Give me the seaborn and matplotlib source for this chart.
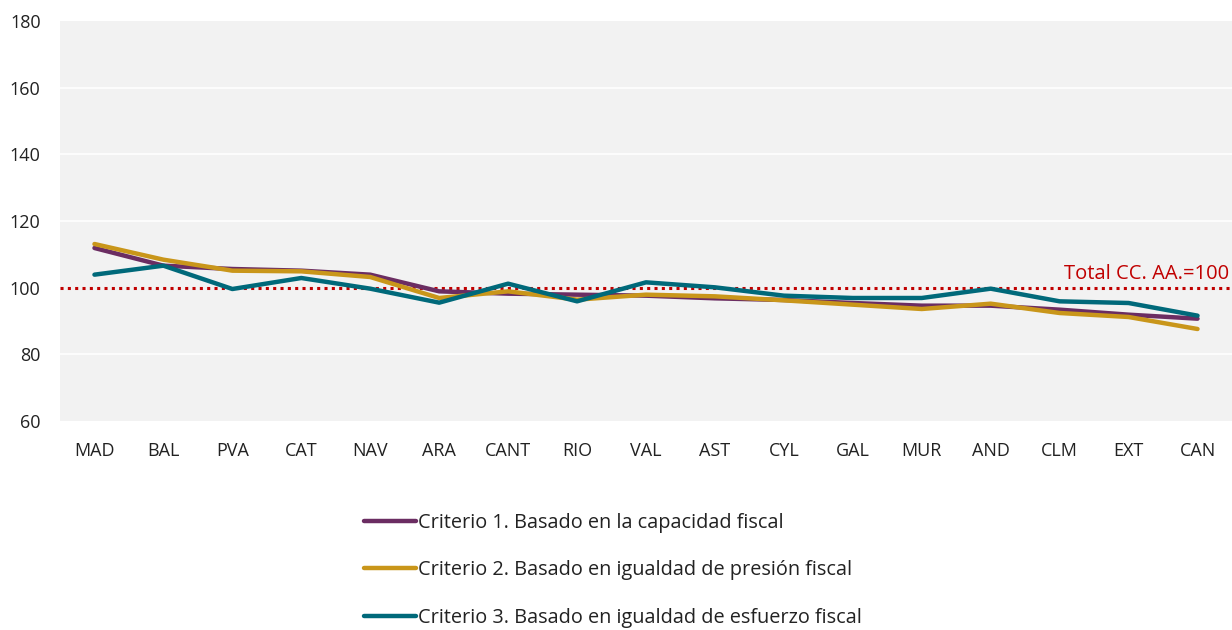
import matplotlib
matplotlib.use("Agg")
import matplotlib.pyplot as plt
import seaborn as sns
import pandas as pd

regions = ["MAD", "BAL", "PVA", "CAT", "NAV", "ARA", "CANT", "RIO", "VAL",
           "AST", "CYL", "GAL", "MUR", "AND", "CLM", "EXT", "CAN"]
criterio1 = [111.9, 106.6, 105.6, 105.1, 103.9, 98.9, 98.2, 97.9, 97.6,
             96.8, 96.3, 95.4, 94.6, 94.6, 93.4, 91.9, 90.7]
criterio2 = [113.1, 108.4, 105.1, 104.9, 103.2, 96.9, 98.9, 96.4, 97.9,
             97.4, 96.2, 94.9, 93.6, 95.2, 92.4, 91.2, 87.6]
criterio3 = [103.9, 106.6, 99.6, 102.9, 99.7, 95.5, 101.2, 95.9, 101.6,
             100.1, 97.6, 96.9, 96.9, 99.7, 95.9, 95.4, 91.6]
series_names = ["Criterio 1. Basado en la capacidad fiscal",
                "Criterio 2. Basado en igualdad de presión fiscal",
                "Criterio 3. Basado en igualdad de esfuerzo fiscal"]
colors = ["#6B2D62", "#C9961A", "#00697A"]
ref_value = 100
ref_label = "Total CC. AA.=100"
yticks = [60, 80, 100, 120, 140, 160, 180]

rows = []
for name, vals in zip(series_names, [criterio1, criterio2, criterio3]):
    for i, (r, v) in enumerate(zip(regions, vals)):
        rows.append({"idx": i, "region": r, "value": v, "serie": name})
df = pd.DataFrame(rows)

sns.set_theme(style="white")
plt.rcParams["font.family"] = ["Open Sans", "DejaVu Sans"]

fig = plt.figure(figsize=(12.32, 6.3), dpi=100)
ax = fig.add_axes([60 / 1232, 1 - 421 / 630, 1 - 60 / 1232, 400 / 630])
ax.set_facecolor("#F2F2F2")

for y in yticks[1:-1]:
    if y != ref_value:
        ax.axhline(y, color="white", lw=1.2, zorder=0)

sns.lineplot(data=df, x="idx", y="value", hue="serie", palette=colors,
             hue_order=series_names, linewidth=3.2, ax=ax, legend=True, zorder=3)

ax.axhline(ref_value, color="#C00000", lw=2.2, ls=(0, (1, 1.4)), zorder=2)
ax.text(len(regions) - 0.5 - 0.04, ref_value + 1.0, ref_label, color="#C00000",
        fontsize=14.5, ha="right", va="bottom")

ax.set_xlim(-0.5, len(regions) - 0.5)
ax.set_ylim(60, 180)
ax.set_xticks(range(len(regions)))
ax.set_xticklabels(regions)
ax.set_yticks(yticks)
ax.tick_params(axis="x", length=0, pad=15, labelsize=13, colors="#222222")
ax.tick_params(axis="y", length=0, pad=14, labelsize=13, colors="#222222")
ax.set_xlabel("")
ax.set_ylabel("")
for s in ax.spines.values():
    s.set_visible(False)
ax.grid(False)

handles, labels = ax.get_legend_handles_labels()
leg = ax.legend(handles, labels, loc="upper left",
                bbox_to_anchor=(346 / 1232, 1 - 495 / 630),
                bbox_transform=fig.transFigure, frameon=False,
                fontsize=14.3, handlelength=2.6, handletextpad=0.15,
                labelspacing=1.38, ncol=1)
for t in leg.get_texts():
    t.set_color("#222222")

fig.savefig("out.png", dpi=100)
